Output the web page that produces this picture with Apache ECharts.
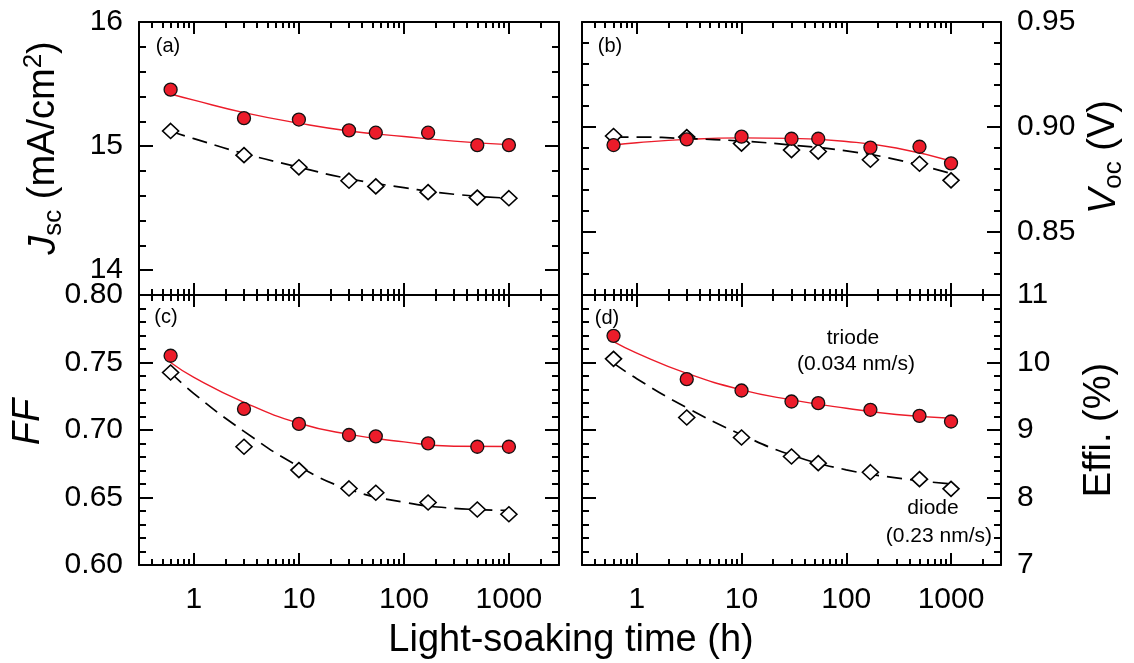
<!DOCTYPE html>
<html><head><meta charset="utf-8">
<script src="https://cdn.jsdelivr.net/npm/echarts@6/dist/echarts.min.js"></script>
<style>html,body{margin:0;padding:0;background:#fff}#c{width:1134px;height:663px}</style>
</head><body><div id="c"></div>
<script>
// ---------- data ----------
const times = [0.6, 3, 10, 30, 54, 170, 500, 1000];
const fitTimes = [0.6, 1, 3, 10, 30, 100, 300, 1000];

const jscTriode = [15.455, 15.225, 15.214, 15.127, 15.108, 15.108, 15.008, 15.008];
const jscDiode = [15.122, 14.927, 14.829, 14.721, 14.675, 14.629, 14.585, 14.580];
const jscTriodeFit = [15.42, 15.37, 15.27, 15.185, 15.122, 15.077, 15.04, 15.012];
const jscDiodeFit = [15.12, 15.06, 14.94, 14.83, 14.737, 14.665, 14.612, 14.58];

const vocTriode = [0.8914, 0.8941, 0.8954, 0.8944, 0.8944, 0.8902, 0.8906, 0.8827];
const vocDiode = [0.8957, 0.8952, 0.8921, 0.8890, 0.8883, 0.8844, 0.8825, 0.8746];
const vocTriodeFit = [0.8914, 0.8925, 0.8941, 0.8948, 0.8946, 0.8931, 0.8900, 0.8838];
const vocDiodeFit = [0.8952, 0.8952, 0.8945, 0.8933, 0.8914, 0.8886, 0.8845, 0.8778];

const ffTriode = [0.7550, 0.7156, 0.7045, 0.6963, 0.6953, 0.6901, 0.6876, 0.6876];
const ffDiode = [0.7426, 0.6876, 0.6703, 0.6567, 0.6535, 0.6463, 0.6411, 0.6376];
const ffTriodeFit = [0.7500, 0.7390, 0.7205, 0.7050, 0.6968, 0.6912, 0.6880, 0.6878];
const ffDiodeFit = [0.7426, 0.7270, 0.6990, 0.6730, 0.6560, 0.6465, 0.6420, 0.6405];

const effTriode = [10.395, 9.753, 9.585, 9.422, 9.398, 9.299, 9.210, 9.126];
const effDiode = [10.054, 9.185, 8.889, 8.607, 8.509, 8.375, 8.272, 8.128];
const effTriodeFit = [10.31, 10.14, 9.84, 9.595, 9.447, 9.323, 9.23, 9.175];
const effDiodeFit = [9.99, 9.76, 9.33, 8.93, 8.63, 8.41, 8.29, 8.20];

// ---------- axes / ticks ----------
const xRange = [0.3, 3000];
const xMajorTicks = [1, 10, 100, 1000];
const xMinorTicks = [0.3, 0.4, 0.5, 0.6, 0.7, 0.8, 0.9, 2, 3, 4, 5, 6, 7, 8, 9, 20, 30, 40, 50, 60, 70, 80, 90,
  200, 300, 400, 500, 600, 700, 800, 900, 2000, 3000];

const jscRange = [13.8, 16];
const jscLabels = [14, 15, 16];
const jscMinor = [13.8, 14.2, 14.4, 14.6, 14.8, 15.2, 15.4, 15.6, 15.8];

const vocRange = [0.82, 0.95];
const vocLabels = [0.85, 0.90, 0.95];
const vocMinor = [0.82, 0.83, 0.84, 0.86, 0.87, 0.88, 0.89, 0.91, 0.92, 0.93, 0.94];

const ffRange = [0.60, 0.80];
const ffLabels = [0.60, 0.65, 0.70, 0.75, 0.80];
const ffMinor = [0.61, 0.62, 0.63, 0.64, 0.66, 0.67, 0.68, 0.69, 0.71, 0.72, 0.73, 0.74, 0.76, 0.77, 0.78, 0.79];

const effRange = [7, 11];
const effLabels = [7, 8, 9, 10, 11];
const effMinor = [7.2, 7.4, 7.6, 7.8, 8.2, 8.4, 8.6, 8.8, 9.2, 9.4, 9.6, 9.8, 10.2, 10.4, 10.6, 10.8];

// ---------- style ----------
const FONT = '"Liberation Sans", Arial, Helvetica, sans-serif';
const RED = '#EC1C2A';
const BLACK = '#000';

const grids = [
  {left: 139, top: 22, width: 420, height: 273},
  {left: 582, top: 22, width: 419, height: 273},
  {left: 139, top: 295, width: 420, height: 270},
  {left: 582, top: 295, width: 419, height: 270}
];

function tickStyle(len, vals) {
  return {show: true, inside: true, length: len, customValues: vals, lineStyle: {color: BLACK, width: 2}};
}
function lineStyle(show) {
  return {show: show, onZero: false, lineStyle: {color: BLACK, width: 2}};
}

const xAxes = [], yAxes = [];
function addX(gi, showLabels) {
  const base = {type: 'log', logBase: 10, gridIndex: gi, min: xRange[0], max: xRange[1], splitLine: {show: false}, minorTick: {show: false}};
  xAxes.push(Object.assign({}, base, {position: 'bottom', axisLine: lineStyle(true), axisTick: tickStyle(12, xMajorTicks),
    axisLabel: {show: showLabels, customValues: xMajorTicks, margin: 20, fontSize: 30, fontFamily: FONT, color: BLACK,
      formatter: v => String(Math.round(v))}}));
  xAxes.push(Object.assign({}, base, {position: 'bottom', axisLine: lineStyle(false), axisTick: tickStyle(6, xMinorTicks), axisLabel: {show: false}}));
  xAxes.push(Object.assign({}, base, {position: 'top', axisLine: lineStyle(true), axisTick: tickStyle(12, xMajorTicks), axisLabel: {show: false}}));
  xAxes.push(Object.assign({}, base, {position: 'top', axisLine: lineStyle(false), axisTick: tickStyle(6, xMinorTicks), axisLabel: {show: false}}));
}
function addY(gi, range, labels, minor, labelSide, fmt) {
  const base = {type: 'value', gridIndex: gi, min: range[0], max: range[1], splitLine: {show: false}, scale: true};
  const lab = side => ({show: labelSide === side, customValues: labels, margin: 16, fontSize: 30, fontFamily: FONT, color: BLACK, formatter: fmt});
  yAxes.push(Object.assign({}, base, {position: 'left', axisLine: lineStyle(true), axisTick: tickStyle(14, labels), axisLabel: lab('left')}));
  yAxes.push(Object.assign({}, base, {position: 'left', axisLine: lineStyle(false), axisTick: tickStyle(7, minor), axisLabel: {show: false}}));
  yAxes.push(Object.assign({}, base, {position: 'right', axisLine: lineStyle(true), axisTick: tickStyle(14, labels), axisLabel: lab('right')}));
  yAxes.push(Object.assign({}, base, {position: 'right', axisLine: lineStyle(false), axisTick: tickStyle(7, minor), axisLabel: {show: false}}));
}
const intFmt = v => String(Math.round(v));
const dec2 = v => v.toFixed(2);

addX(0, false); addX(1, false); addX(2, true); addX(3, true);
addY(0, jscRange, jscLabels, jscMinor, 'left', intFmt);
addY(1, vocRange, vocLabels, vocMinor, 'right', dec2);
addY(2, ffRange, ffLabels, ffMinor, 'left', dec2);
addY(3, effRange, effLabels, effMinor, 'right', intFmt);

const panels = [
  [jscTriode, jscDiode, jscTriodeFit, jscDiodeFit],
  [vocTriode, vocDiode, vocTriodeFit, vocDiodeFit],
  [ffTriode, ffDiode, ffTriodeFit, ffDiodeFit],
  [effTriode, effDiode, effTriodeFit, effDiodeFit]
];

const series = [];
panels.forEach((p, gi) => {
  const ax = {xAxisIndex: gi * 4, yAxisIndex: gi * 4};
  const pair = (xs, ys) => xs.map((x, i) => [x, ys[i]]);
  series.push(Object.assign({type: 'line', name: 'triode fit', data: pair(fitTimes, p[2]), smooth: 0.5,
    showSymbol: false, symbol: 'none', lineStyle: {color: RED, width: 1.4}, z: 1}, ax));
  series.push(Object.assign({type: 'line', name: 'diode fit', data: pair(fitTimes, p[3]), smooth: 0.5,
    showSymbol: false, symbol: 'none', lineStyle: {color: BLACK, width: 1.7, type: [15, 8]}, z: 1}, ax));
  series.push(Object.assign({type: 'scatter', name: 'diode', data: pair(times, p[1]), symbol: 'diamond', symbolSize: [16, 15],
    itemStyle: {color: '#fff', borderColor: BLACK, borderWidth: 1.6, opacity: 1}, z: 3}, ax));
  series.push(Object.assign({type: 'scatter', name: 'triode', data: pair(times, p[0]), symbol: 'circle', symbolSize: 13,
    itemStyle: {color: RED, borderColor: '#111', borderWidth: 1.3, opacity: 1}, z: 4}, ax));
});

const richT = {
  n: {fontSize: 38, fontFamily: FONT, lineHeight: 46, verticalAlign: 'middle', fill: BLACK},
  i: {fontSize: 38, fontFamily: FONT, fontStyle: 'italic', lineHeight: 46, verticalAlign: 'middle', fill: BLACK},
  s: {fontSize: 26, fontFamily: FONT, lineHeight: 24, verticalAlign: 'bottom', fill: BLACK},
  p: {fontSize: 26, fontFamily: FONT, lineHeight: 24, verticalAlign: 'top', fill: BLACK}
};
function title(text, x, y, rot) {
  return {type: 'text', x: x, y: y, rotation: rot, z: 10,
    style: {text: text, rich: richT, align: 'center', verticalAlign: 'middle', fill: BLACK, font: '38px ' + FONT}};
}
function small(text, x, y, align, size) {
  return {type: 'text', x: x, y: y, z: 10,
    style: {text: text, align: align, verticalAlign: 'middle', fill: BLACK, fontSize: size, fontFamily: FONT, lineHeight: size + 6}};
}
const R90 = Math.PI / 2;
const graphics = [
  title('{i|J}{s|sc}{n| (mA/cm}{p|2}{n|)}', 44, 148, R90),
  title('{i|FF}', 28, 422, R90),
  title('{i|V}{s|oc}{n| (V)}', 1104, 157, R90),
  title('{n|Effi. (%)}', 1100, 430, R90),
  title('{n|Light-soaking time (h)}', 571, 641, 0),
  small('(a)', 168, 46, 'center', 20),
  small('(b)', 610, 46, 'center', 20),
  small('(c)', 166, 317, 'center', 20),
  small('(d)', 607, 318, 'center', 20),
  small('triode', 853, 338, 'center', 21),
  small('(0.034 nm/s)', 856, 364, 'center', 21),
  small('diode', 933, 508, 'center', 21),
  small('(0.23 nm/s)', 992, 536, 'right', 21)
];

const chart = echarts.init(document.getElementById('c'), null, {renderer: 'canvas'});
chart.setOption({
  animation: false,
  backgroundColor: '#fff',
  grid: grids.map(g => Object.assign({containLabel: false}, g)),
  xAxis: xAxes,
  yAxis: yAxes,
  series: series,
  graphic: graphics
});
</script>
</body></html>
